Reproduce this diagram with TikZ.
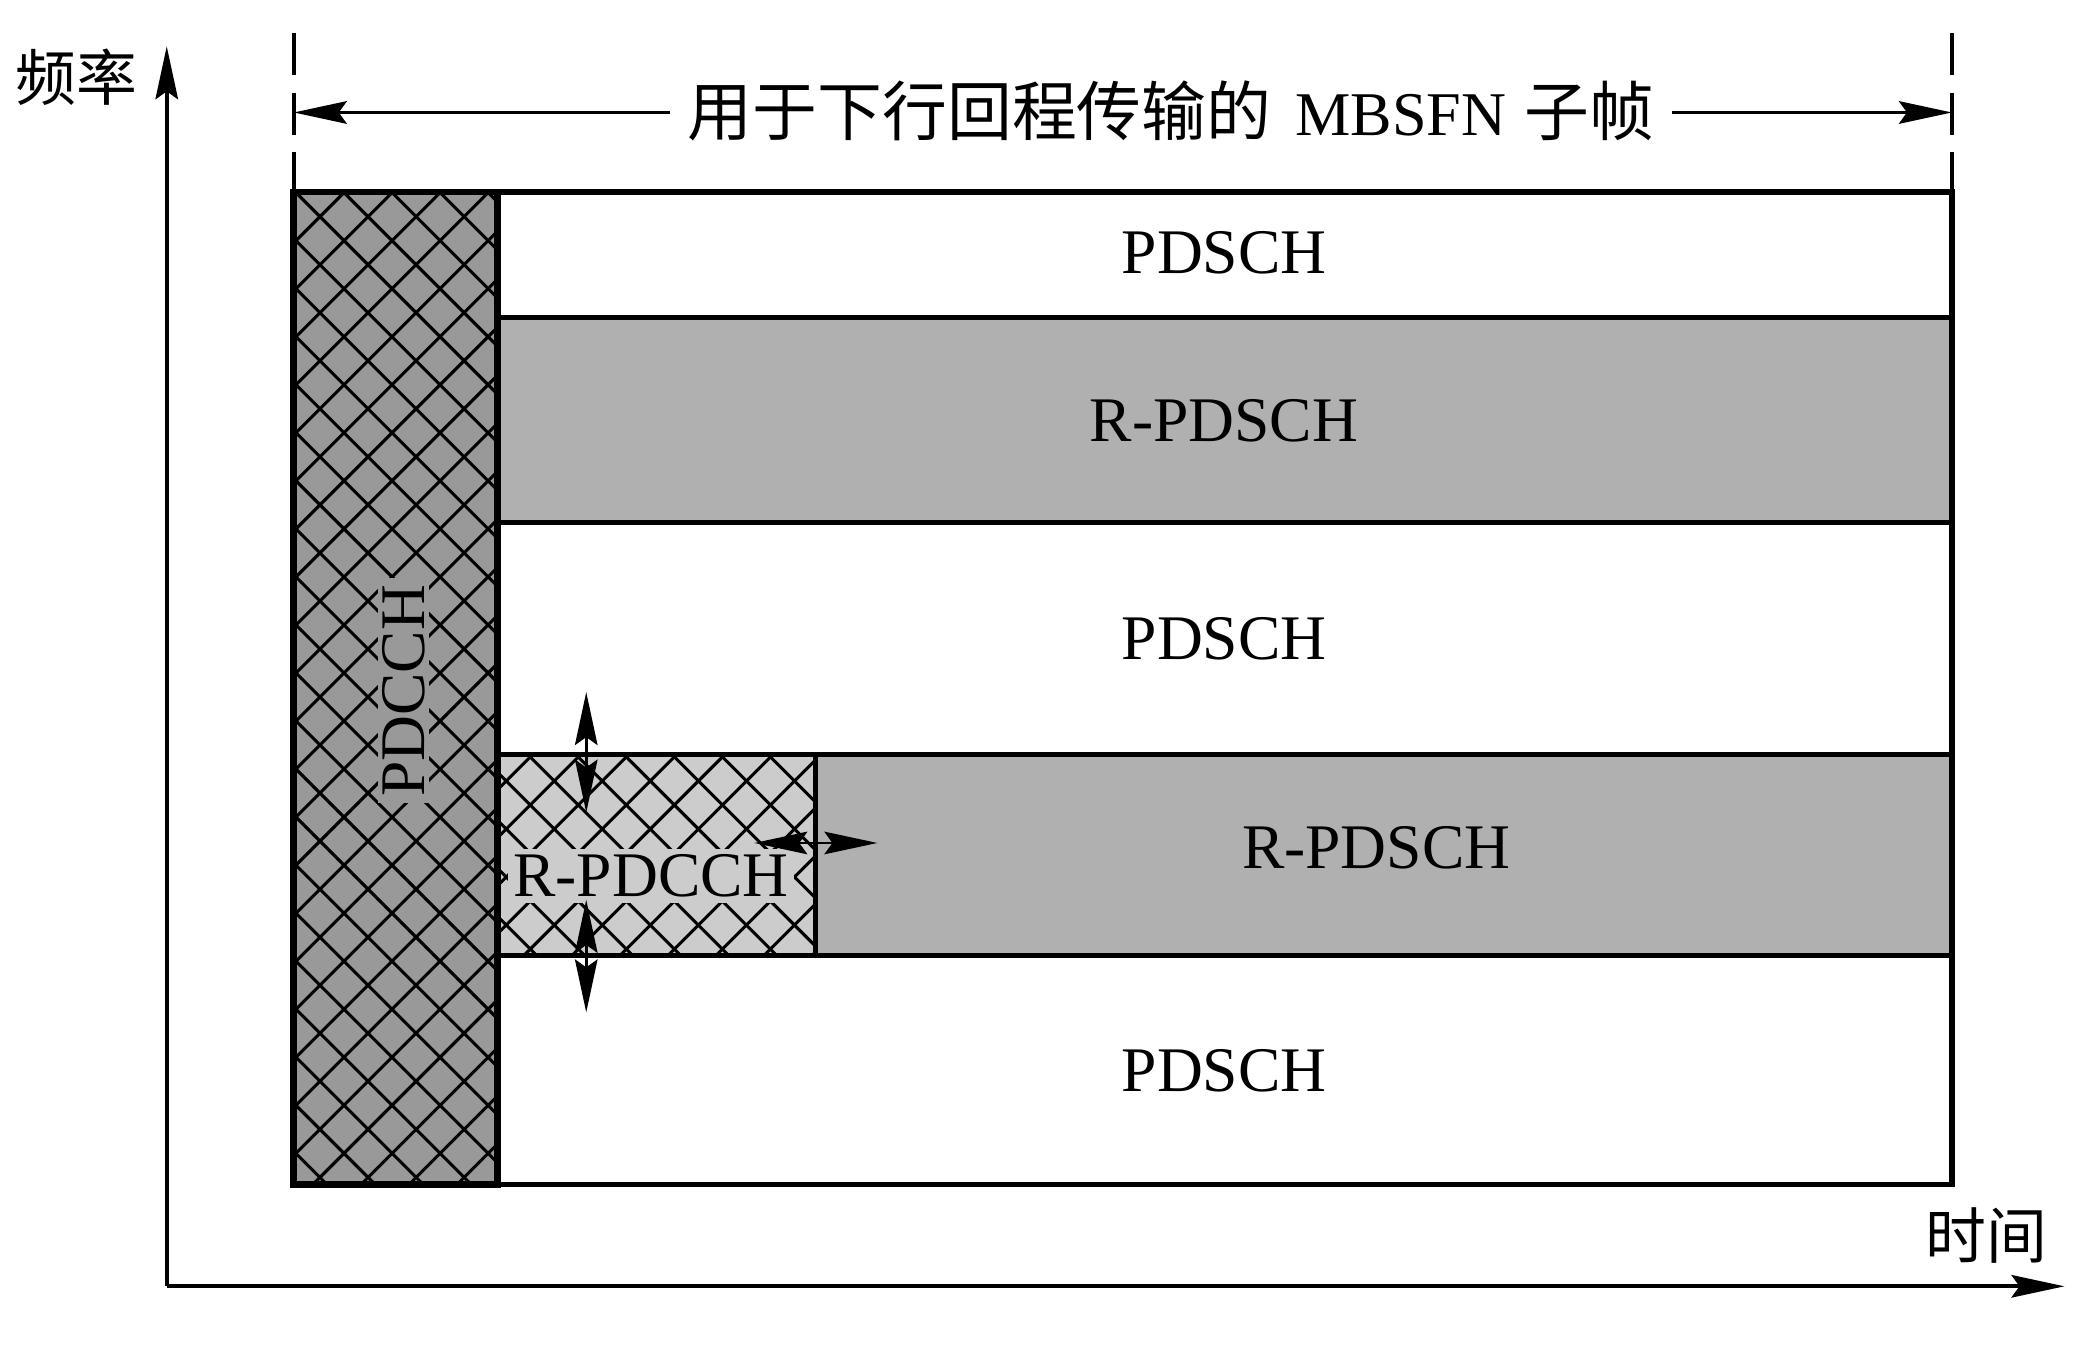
\documentclass[tikz,border=0pt]{standalone}
\usepackage{fontspec}
\setmainfont{Liberation Serif}
\newfontfamily\cjk{Noto Sans CJK SC}
\usetikzlibrary{arrows.meta}
\definecolor{pdcchgray}{gray}{0.6}
\definecolor{rpdschgray}{gray}{0.69}
\definecolor{rpdcchgray}{gray}{0.8}
\tikzset{
  hatchline/.style={line width=2.3pt, black},
  border/.style={line width=4pt, black},
  lbl/.style={font=\fontsize{48}{58}\selectfont, inner sep=0pt},
  cjklbl/.style={font=\cjk\fontsize{46}{54}\selectfont, inner sep=0pt},
  mytip/.tip={Stealth[length=40pt,width=17pt,inset=6pt]},
  axisline/.style={line width=2.8pt, -mytip},
  dimline/.style={line width=2.8pt, -mytip},
  dblarrow/.style={line width=2.2pt, mytip-mytip},
  guide/.style={line width=2.8pt, dash pattern=on 32pt off 13pt}
}
\newcommand\hatchbox[6]{%
  \begin{scope}
    \clip (#1,#2) rectangle (#3,#4);
    \foreach \k in {-40,...,40}{%
      \pgfmathsetmacro\cc{#5+\k*36.3}%
      \pgfmathsetmacro\dd{#6+\k*36.3}%
      \draw[hatchline] ({\cc-#2},#2) -- ({\cc-#4},#4);
      \draw[hatchline] ({\dd+#2},#2) -- ({\dd+#4},#4);
    }
  \end{scope}}
\begin{document}
\begin{tikzpicture}[x=1pt,y=-1pt]
\useasboundingbox (0,0) rectangle (1568,1017);
% fills
\fill[pdcchgray] (222,145) rectangle (376,895);
\fill[rpdschgray] (376,240) rectangle (1475,395);
\fill[rpdcchgray] (376,570) rectangle (616,722);
\fill[rpdschgray] (616,570) rectangle (1475,722);
% hatching
\hatchbox{222}{145}{376}{895}{405.5}{78.1}
\hatchbox{376}{570}{616}{722}{1045.3}{-171.3}
% borders
\draw[border] (222,145) rectangle (1475,895);
\draw[border] (376,240) -- (1475,240);
\draw[border] (376,395) -- (1475,395);
\draw[border] (376,570) -- (1475,570);
\draw[border] (376,722) -- (1475,722);
\draw[border] (616,570) -- (616,722);
\draw[line width=5pt] (222,145) rectangle (376,895);
% labels
\node[lbl] (pdsch1) at (925,191) {PDSCH};
\node[lbl] (rpdsch1) at (925,318) {R-PDSCH};
\node[lbl] (pdsch2) at (925,483) {PDSCH};
\node[lbl] (rpdsch2) at (1040,641) {R-PDSCH};
\node[lbl] (pdsch3) at (925,809) {PDSCH};
\node[lbl, rotate=90, fill=pdcchgray, inner xsep=5pt, inner ysep=3pt] (pdcch) at (305,522) {PDCCH};
\node[lbl, fill=rpdcchgray, inner xsep=4pt, inner ysep=4pt] (rpdcch) at (492,662) {R-PDCCH};
% axes
\coordinate (origin) at (126,972);
\coordinate (ytip) at (126,35);
\coordinate (xtip) at (1560,972);
\draw[axisline] (origin) -- (ytip);
\draw[axisline] (origin) -- (xtip);
\node[cjklbl] (freq) at (58,58) {频率};
\node[cjklbl] (time) at (1501,934) {时间};
% dimension
\coordinate (gl) at (222,25);
\coordinate (glb) at (222,145);
\coordinate (gr) at (1475,25);
\coordinate (grb) at (1475,145);
\draw[guide] (gl) -- (glb);
\draw[guide] (gr) -- (grb);
\coordinate (dl) at (222,85);
\coordinate (dr) at (1475,85);
\node[inner xsep=13pt, inner ysep=0pt] (title) at (885,84)
  {{\cjk\fontsize{49}{58}\selectfont 用于下行回程传输的}\hspace{18pt}{\fontsize{47}{56}\selectfont MBSFN}\hspace{14pt}{\cjk\fontsize{49}{58}\selectfont 子帧}};
\draw[dimline] (title.west |- dl) -- (dl);
\draw[dimline] (title.east |- dr) -- (dr);
% adjustment arrows
\coordinate (a1) at (443,523);
\coordinate (a2) at (443,614);
\coordinate (b1) at (443,680);
\coordinate (b2) at (443,765);
\coordinate (c1) at (570,637);
\coordinate (c2) at (663,637);
\draw[dblarrow] (a1) -- (a2);
\draw[dblarrow] (b1) -- (b2);
\draw[dblarrow] (c1) -- (c2);
\end{tikzpicture}
\end{document}
